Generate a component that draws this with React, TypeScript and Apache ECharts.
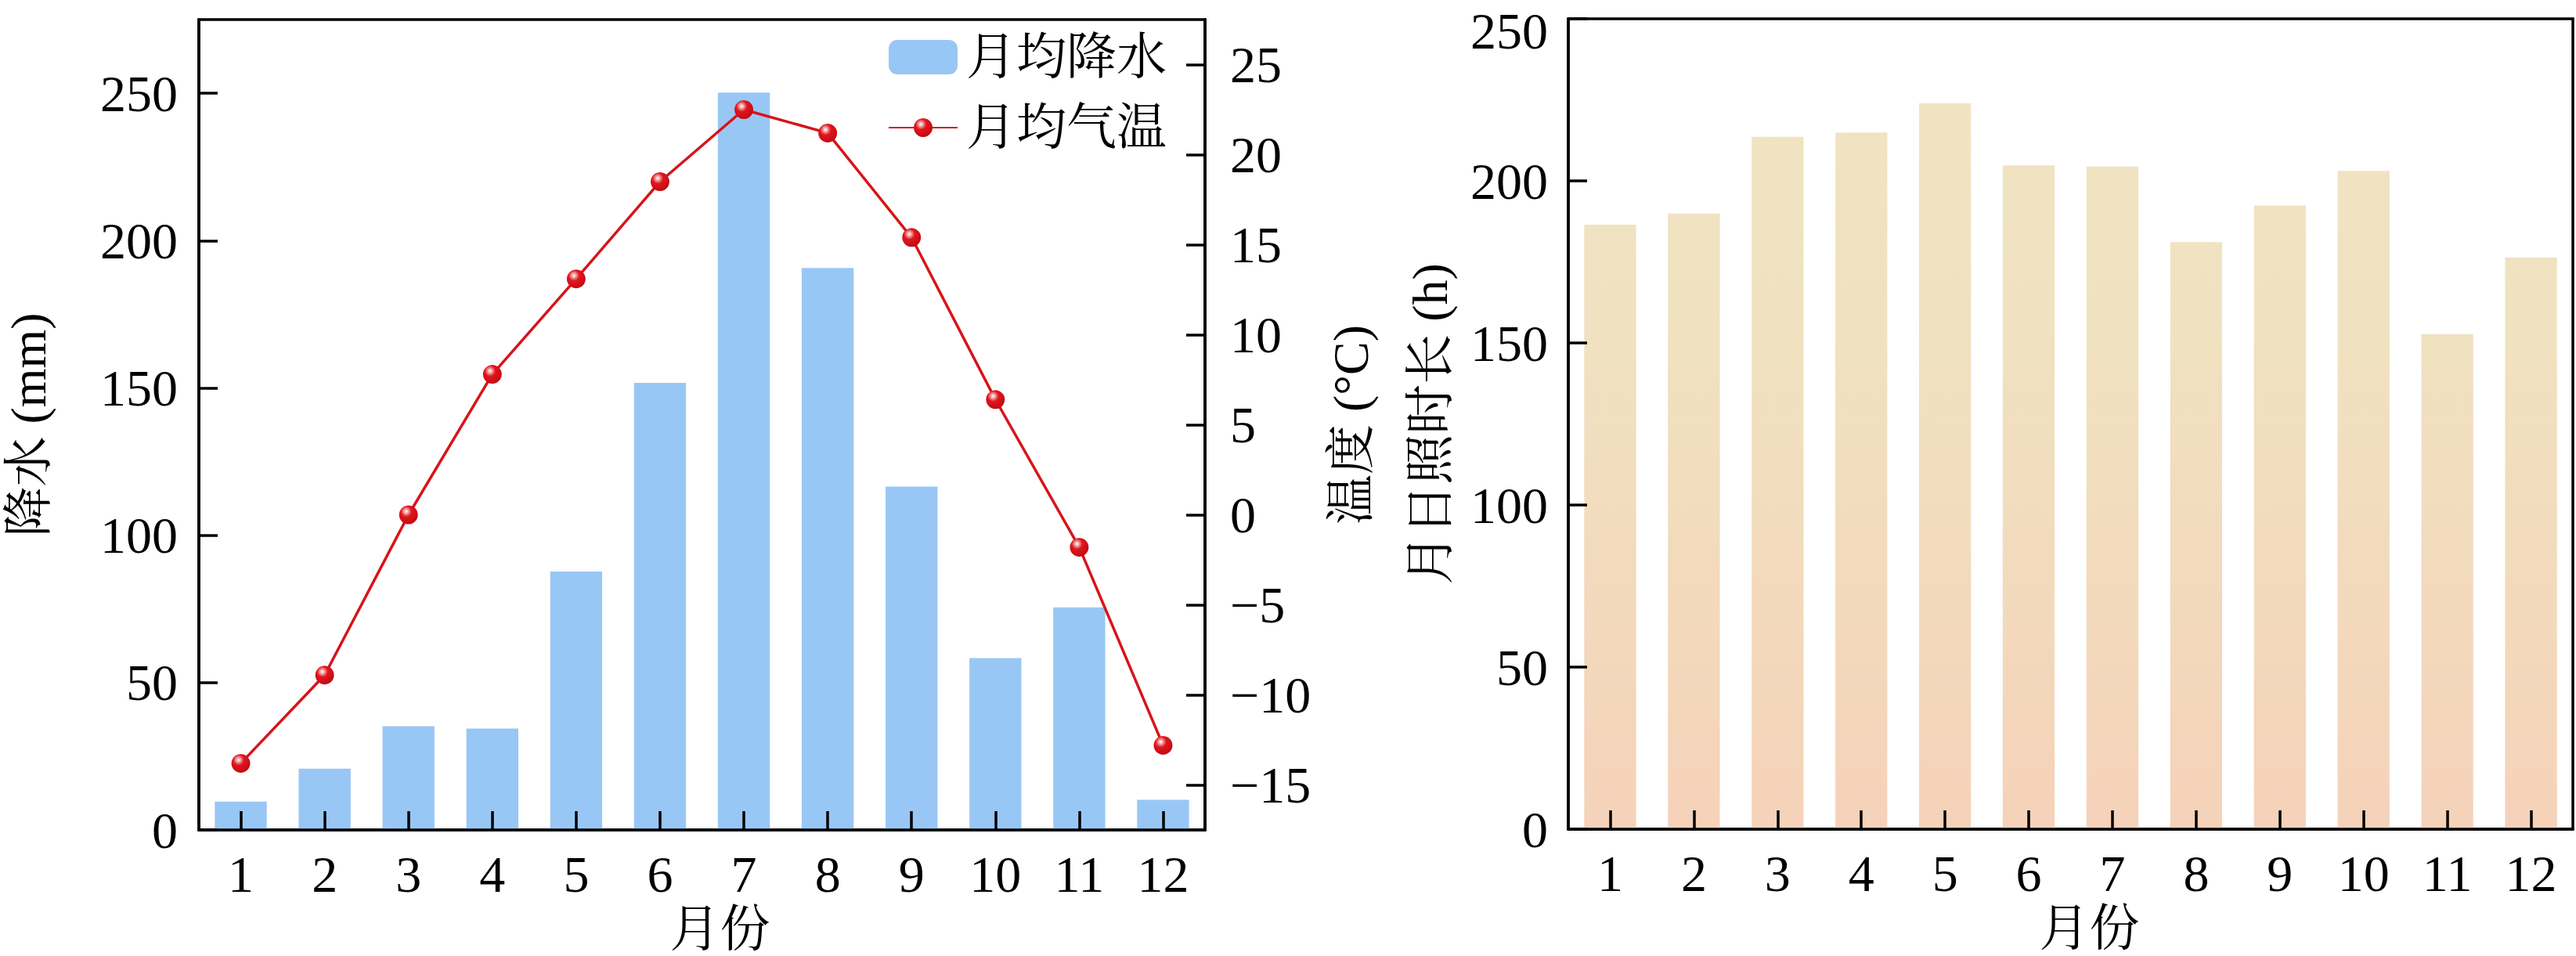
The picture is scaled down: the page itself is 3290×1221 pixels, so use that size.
import React, { useEffect, useRef } from 'react';
import * as echarts from 'echarts';

const months = ['1', '2', '3', '4', '5', '6', '7', '8', '9', '10', '11', '12'];
const precipitation = [9.6, 20.8, 35.2, 34.4, 87.7, 151.7, 250.2, 190.7, 116.5, 58.3, 75.5, 10.2];
const temperature = [-13.8, -8.9, 0.0, 7.8, 13.1, 18.5, 22.5, 21.2, 15.4, 6.4, -1.8, -12.8];
const sunshine = [186.5, 189.9, 213.6, 214.9, 224.0, 204.8, 204.4, 181.1, 192.4, 203.1, 152.7, 176.4];

const precipRange = { min: 0, max: 275, interval: 50 };
const tempRange = { min: -17.5, max: 27.5, splitNumber: 9 };
const sunRange = { min: 0, max: 250, interval: 50 };

const FONT = "'Liberation Serif', 'Times New Roman', 'Noto Serif CJK SC', 'Noto Sans CJK SC', serif";

export default function App() {
  const ref = useRef<HTMLDivElement>(null);
  useEffect(() => {
    const chart = echarts.init(ref.current!, null, { renderer: 'svg' });
    const axisLine = { show: true, lineStyle: { color: '#000', width: 3.5 } };
    const tick = { show: true, inside: true, length: 24, lineStyle: { color: '#000', width: 3.5 } };
    const labelStyle = { color: '#000', fontFamily: FONT, fontSize: 66, lineHeight: 48 };
    const nameStyle = { color: '#000', fontFamily: FONT, fontSize: 64 };
    const sphere = new echarts.graphic.RadialGradient(0.38, 0.32, 0.68, [
      { offset: 0, color: '#ffffff' },
      { offset: 0.16, color: '#f5a9ab' },
      { offset: 0.42, color: '#e0161e' },
      { offset: 1, color: '#c20b12' },
    ]);
    const sunGradient = new echarts.graphic.LinearGradient(0, 24, 0, 1059, [
      { offset: 0, color: '#f0e4c2' },
      { offset: 0.38, color: '#f0e2c0' },
      { offset: 1, color: '#f5d2b9' },
    ], true);

    const tempFmt = (v: number) => (v < 0 ? '\u2212' + Math.abs(v) : String(v));
    const sunFmt = (v: number) => (v >= sunRange.max ? '{top|' + v + '}' : String(v));

    chart.setOption({
      animation: false,
      backgroundColor: '#fff',
      grid: [
        { left: 254, top: 25, width: 1285, height: 1035, show: true, borderColor: '#000', borderWidth: 3.5, backgroundColor: 'transparent', outerBoundsMode: 'none', containLabel: false },
        { left: 2003, top: 24, width: 1283, height: 1035, show: true, borderColor: '#000', borderWidth: 3.5, backgroundColor: 'transparent', outerBoundsMode: 'none', containLabel: false },
      ],
      legend: [
        {
          data: ['月均降水'], orient: 'vertical', left: 1135, top: 41, padding: 0,
          itemWidth: 88, itemHeight: 44, selectedMode: false,
          textStyle: { ...nameStyle, padding: [0, 0, 0, 6] },
        },
        {
          data: ['月均气温'], orient: 'vertical', left: 1134, top: 131, padding: 0,
          itemWidth: 88, itemHeight: 30, selectedMode: false,
          textStyle: { ...nameStyle, padding: [0, 0, 0, 6] },
        },
      ],
      xAxis: [
        {
          type: 'category', gridIndex: 0, data: months, z: 10,
          axisLine, axisTick: { ...tick, alignWithLabel: true },
          axisLabel: { ...labelStyle, margin: 32 },
          splitLine: { show: false },
          name: '月份', nameLocation: 'middle', nameGap: 94,
          nameTextStyle: { ...nameStyle, padding: [0, 0, 0, 46] },
        },
        {
          type: 'category', gridIndex: 1, data: months, z: 10,
          axisLine, axisTick: { ...tick, alignWithLabel: true },
          axisLabel: { ...labelStyle, margin: 32 },
          splitLine: { show: false },
          name: '月份', nameLocation: 'middle', nameGap: 94,
          nameTextStyle: { ...nameStyle, padding: [0, 0, 0, 48] },
        },
      ],
      yAxis: [
        {
          type: 'value', gridIndex: 0, position: 'left', z: 10,
          min: precipRange.min, max: precipRange.max, interval: precipRange.interval,
          axisLine, axisTick: tick,
          axisLabel: { ...labelStyle, margin: 27, showMaxLabel: false, showMinLabel: true },
          splitLine: { show: false },
          name: '降水 (mm)', nameLocation: 'middle', nameGap: 186, nameTextStyle: nameStyle,
        },
        {
          type: 'value', gridIndex: 0, position: 'right', z: 10,
          min: tempRange.min, max: tempRange.max, splitNumber: tempRange.splitNumber,
          axisLine, axisTick: tick,
          axisLabel: { ...labelStyle, margin: 32, showMaxLabel: false, showMinLabel: false, formatter: tempFmt },
          splitLine: { show: false },
          name: '温度 (°C)', nameLocation: 'middle', nameGap: 154, nameTextStyle: nameStyle,
        },
        {
          type: 'value', gridIndex: 1, position: 'left', z: 10,
          min: sunRange.min, max: sunRange.max, interval: sunRange.interval,
          axisLine, axisTick: tick,
          axisLabel: {
            ...labelStyle, margin: 26, formatter: sunFmt,
            rich: { top: { fontFamily: FONT, fontSize: 66, lineHeight: 48, color: '#000', padding: [30, 0, 0, 0] } },
          },
          splitLine: { show: false },
          name: '月日照时长 (h)', nameLocation: 'middle', nameGap: 145, nameTextStyle: nameStyle,
        },
      ],
      series: [
        {
          name: '月均降水', type: 'bar', xAxisIndex: 0, yAxisIndex: 0, data: precipitation,
          barWidth: '62%', itemStyle: { color: '#99c7f5' }, z: 2,
        },
        {
          name: '月均气温', type: 'line', xAxisIndex: 0, yAxisIndex: 1, data: temperature,
          symbol: 'circle', symbolSize: 24, z: 5,
          lineStyle: { color: '#d7141a', width: 3.5 },
          itemStyle: { color: sphere, borderWidth: 0 },
        },
        {
          name: '月日照时长', type: 'bar', xAxisIndex: 1, yAxisIndex: 2, data: sunshine,
          barWidth: '62%', itemStyle: { color: sunGradient }, z: 2,
        },
      ],
    });
    return () => chart.dispose();
  }, []);
  return (
    <div
      ref={ref}
      style={{ position: 'fixed', left: 0, top: 0, width: 3290, height: 1221, background: '#fff' }}
    />
  );
}
